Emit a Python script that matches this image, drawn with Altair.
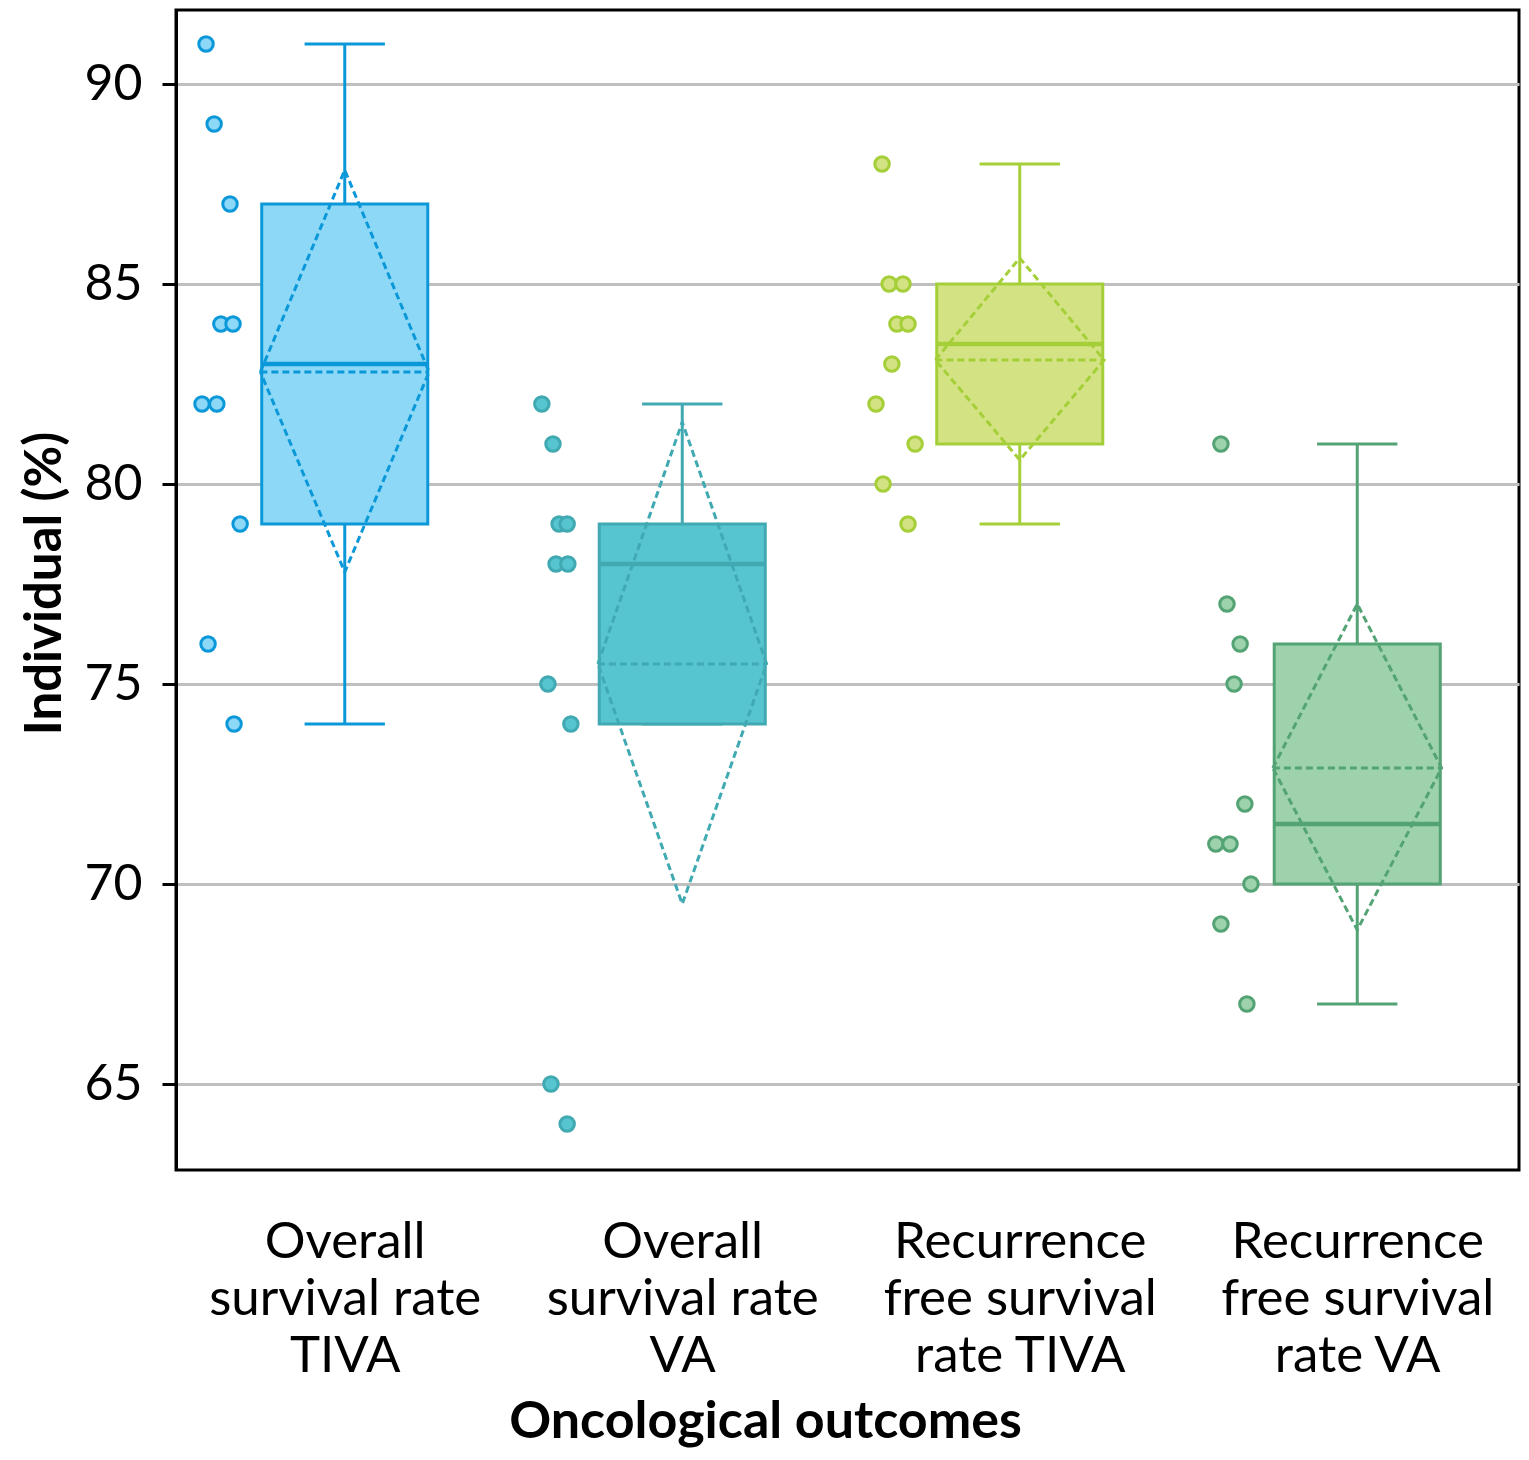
import json
import altair as alt
import pandas as pd

# ---------------- data ----------------
categories = [
    "Overall survival rate TIVA",
    "Overall survival rate VA",
    "Recurrence free survival rate TIVA",
    "Recurrence free survival rate VA",
]
label_lines = [
    ["Overall", "survival rate", "TIVA"],
    ["Overall", "survival rate", "VA"],
    ["Recurrence", "free survival", "rate TIVA"],
    ["Recurrence", "free survival", "rate VA"],
]

values_os_tiva = [91, 89, 87, 84, 84, 82, 82, 79, 76, 74]
values_os_va = [82, 81, 79, 79, 78, 78, 75, 74, 65, 64]
values_rfs_tiva = [88, 85, 85, 84, 84, 83, 82, 81, 80, 79]
values_rfs_va = [81, 77, 76, 75, 72, 71, 71, 70, 69, 67]

# horizontal jitter of the individual points (x units)
jitter_os_tiva = [-0.411, -0.387, -0.340, -0.367, -0.331, -0.423, -0.379, -0.310, -0.405, -0.328]
jitter_os_va = [-0.416, -0.383, -0.365, -0.341, -0.374, -0.339, -0.398, -0.330, -0.389, -0.341]
jitter_rfs_tiva = [-0.408, -0.387, -0.346, -0.364, -0.331, -0.379, -0.426, -0.310, -0.405, -0.331]
jitter_rfs_va = [-0.404, -0.386, -0.347, -0.365, -0.333, -0.419, -0.377, -0.315, -0.404, -0.327]

q1 = [79, 74, 81, 70]
median = [83, 78, 83.5, 71.5]
q3 = [87, 79, 85, 76]
whisker_lo = [74, 74, 79, 67]
whisker_hi = [91, 82, 88, 81]
mean = [82.8, 75.5, 83.1, 72.9]
ci_lo = [77.8, 69.5, 80.6, 68.85]
ci_hi = [87.85, 81.55, 85.65, 77.0]

stroke_colors = ["#0b98d9", "#41a9b2", "#a4cf38", "#53a374"]
fill_colors = ["#8ed8f7", "#56c5d0", "#d3e383", "#9dd2ad"]

# ---------------- tables ----------------
BOX_HW = 0.246
CAP_HW = 0.119
DIA_HW = 0.25

all_values = [values_os_tiva, values_os_va, values_rfs_tiva, values_rfs_va]
all_jitter = [jitter_os_tiva, jitter_os_va, jitter_rfs_tiva, jitter_rfs_va]

pts = []
for i, (vals, jit) in enumerate(zip(all_values, all_jitter)):
    for v, j in zip(vals, jit):
        pts.append({"group": categories[i], "x": i + 1 + j, "value": v})
pts = pd.DataFrame(pts)

stats = pd.DataFrame({
    "group": categories,
    "pos": [1, 2, 3, 4],
    "q1": q1, "median": median, "q3": q3,
    "wlo": whisker_lo, "whi": whisker_hi,
    "mean": mean, "ci_lo": ci_lo, "ci_hi": ci_hi,
})
stats["box_lo"] = stats["pos"] - BOX_HW
stats["box_hi"] = stats["pos"] + BOX_HW
stats["cap_lo"] = stats["pos"] - CAP_HW
stats["cap_hi"] = stats["pos"] + CAP_HW
stats["dia_lo"] = stats["pos"] - DIA_HW
stats["dia_hi"] = stats["pos"] + DIA_HW

dia = []
for _, r in stats.iterrows():
    verts = [(r.pos - DIA_HW, r["mean"]), (r.pos, r.ci_hi), (r.pos + DIA_HW, r["mean"]),
             (r.pos, r.ci_lo), (r.pos - DIA_HW, r["mean"])]
    for k, (xx, yy) in enumerate(verts):
        dia.append({"group": r.group, "x": xx, "y": yy, "k": k})
dia = pd.DataFrame(dia)

# ---------------- layout ----------------
FONT = "Lato"
W, H = 1343, 1160
PX_X, PX_Y = 337.5, 40.0
x_dom = [0.5, 0.5 + W / PX_X]
y_dom = [62.85, 62.85 + H / PX_Y]

label_expr = json.dumps(label_lines) + "[datum.value - 1]"

x_axis = alt.Axis(
    values=[1, 2, 3, 4], labelExpr=label_expr, ticks=False, domain=False, grid=False,
    labelFontSize=51, labelFont=FONT, labelColor="black", labelLineHeight=57,
    labelPadding=47, labelBaseline="top", labelLimit=0,
    title="Oncological outcomes", titleFont=FONT, titleFontSize=52, titleFontWeight="bold",
    titleColor="black", titleX=589, titleY=267, titleAlign="center", titleBaseline="alphabetic",
)
y_axis = alt.Axis(
    values=[65, 70, 75, 80, 85, 90], grid=True, gridColor="#bfbfbf", gridWidth=3,
    domain=True, domainColor="black", domainWidth=3,
    ticks=True, tickColor="black", tickWidth=3, tickSize=14,
    labelFontSize=50, labelFont=FONT, labelColor="black", labelPadding=20,
    title="Individual (%)", titleFont=FONT, titleFontSize=51, titleFontWeight="bold",
    titleColor="black", titleX=-131, titleY=573, titleAngle=270,
    titleAlign="center", titleBaseline="middle", titleLimit=0,
)

xs = alt.Scale(domain=x_dom, nice=False, zero=False)
ys = alt.Scale(domain=y_dom, nice=False, zero=False)
stroke_enc = alt.Stroke("group:N", scale=alt.Scale(domain=categories, range=stroke_colors), legend=None)
fill_enc = alt.Fill("group:N", scale=alt.Scale(domain=categories, range=fill_colors), legend=None)

base_s = alt.Chart(stats)

whisker = base_s.mark_rule(strokeWidth=3).encode(
    x=alt.X("pos:Q", scale=xs, axis=x_axis), y=alt.Y("wlo:Q", scale=ys, axis=y_axis), y2="whi:Q",
    stroke=stroke_enc)
cap_lo = base_s.mark_rule(strokeWidth=3).encode(
    x=alt.X("cap_lo:Q", scale=xs), x2="cap_hi:Q", y=alt.Y("wlo:Q", scale=ys), stroke=stroke_enc)
cap_hi = base_s.mark_rule(strokeWidth=3).encode(
    x=alt.X("cap_lo:Q", scale=xs), x2="cap_hi:Q", y=alt.Y("whi:Q", scale=ys), stroke=stroke_enc)
box = base_s.mark_rect(strokeWidth=3).encode(
    x=alt.X("box_lo:Q", scale=xs), x2="box_hi:Q", y=alt.Y("q1:Q", scale=ys), y2="q3:Q",
    fill=fill_enc, stroke=stroke_enc)
med = base_s.mark_rule(strokeWidth=4.5).encode(
    x=alt.X("box_lo:Q", scale=xs), x2="box_hi:Q", y=alt.Y("median:Q", scale=ys), stroke=stroke_enc)
meanline = base_s.mark_rule(strokeWidth=3, strokeDash=[7, 4]).encode(
    x=alt.X("dia_lo:Q", scale=xs), x2="dia_hi:Q", y=alt.Y("mean:Q", scale=ys), stroke=stroke_enc)
diamond = alt.Chart(dia).mark_line(strokeWidth=3, strokeDash=[7, 4]).encode(
    x=alt.X("x:Q", scale=xs), y=alt.Y("y:Q", scale=ys), order="k:Q", detail="group:N",
    stroke=stroke_enc)
points = alt.Chart(pts).mark_point(shape="circle", filled=True, opacity=1, size=210,
                                   strokeWidth=3).encode(
    x=alt.X("x:Q", scale=xs), y=alt.Y("value:Q", scale=ys), fill=fill_enc, stroke=stroke_enc)

chart = alt.layer(whisker, cap_lo, cap_hi, box, med, meanline, diamond, points).properties(
    width=W, height=H,
    autosize=alt.AutoSizeParams(type="none"),
    padding={"left": 168, "top": 2, "right": 2, "bottom": 282},
    background="white",
).configure_view(stroke="black", strokeWidth=3)

chart.save("out.html", embed_options={"renderer": "svg", "actions": False})
